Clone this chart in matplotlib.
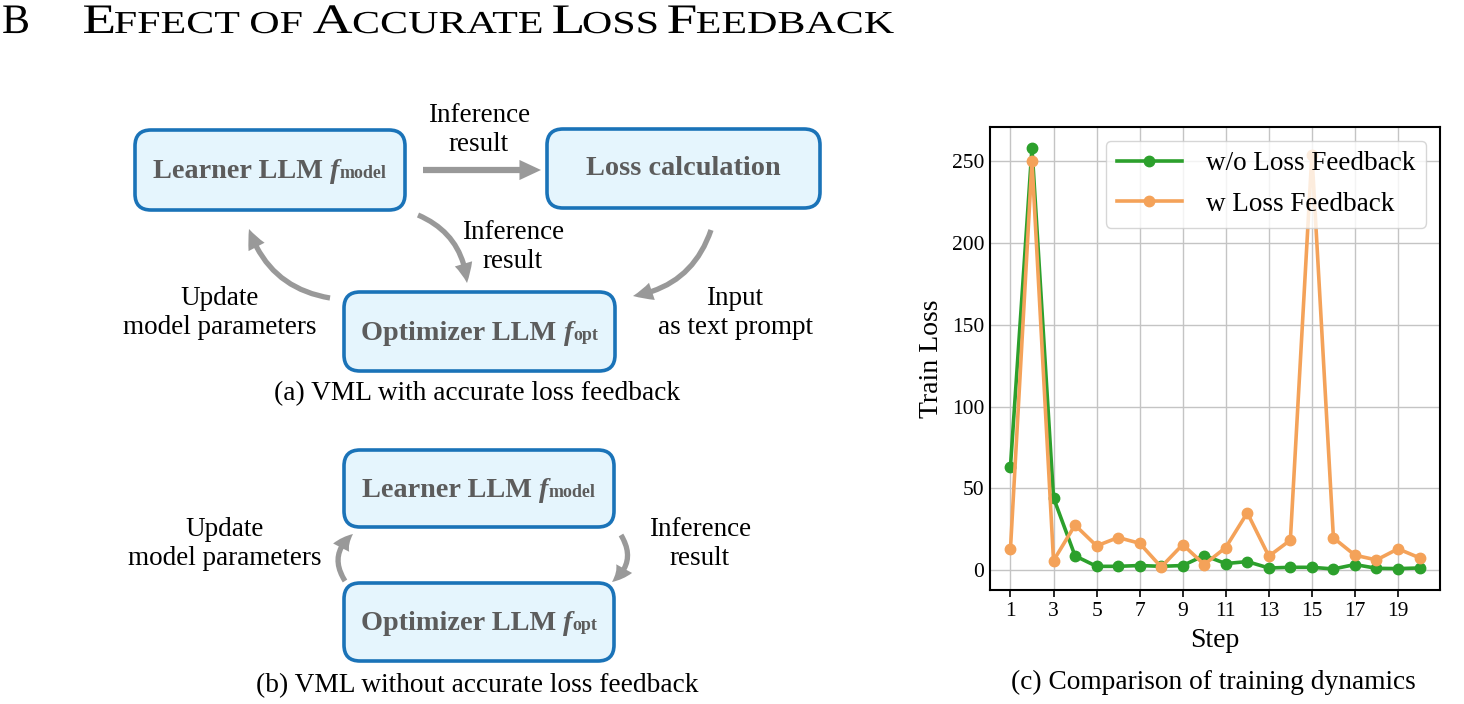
import matplotlib
matplotlib.use("Agg")
import matplotlib.pyplot as plt
from matplotlib.patches import FancyBboxPatch, FancyArrowPatch, PathPatch
from matplotlib.offsetbox import TextArea, HPacker, AnnotationBbox
from matplotlib.textpath import TextPath
from matplotlib.font_manager import FontProperties
from matplotlib.path import Path
from matplotlib.transforms import Affine2D

plt.rcParams['font.family'] = ['Liberation Serif', 'DejaVu Serif']

# training loss data
steps = list(range(1, 21))
loss_without = [63.3, 258, 44.3, 8.8, 2.4, 2.4, 2.9, 2.4, 2.9, 9.0,
                4.1, 5.3, 1.4, 1.8, 1.8, 0.8, 3.5, 1.2, 1.0, 1.4]
loss_with = [12.9, 250, 5.9, 27.6, 14.9, 20.0, 16.5, 2.0, 15.7, 3.5,
             13.9, 35.1, 8.6, 18.4, 254, 19.8, 9.2, 6.3, 13.1, 7.6]
series_labels = ['w/o Loss Feedback', 'w Loss Feedback']
series_colors = ['#2ca02c', '#f4a259']
xtick_steps = list(range(1, 21, 2))
ytick_vals = [0, 50, 100, 150, 200, 250]

title_words = ['Effect', 'of', 'Accurate', 'Loss', 'Feedback']

box_edge = '#1a73b8'
box_fill = '#e5f5fd'
box_text = '#5c5c5c'
arrow_col = '#999999'

W, H = 1464, 704
fig = plt.figure(figsize=(W / 100, H / 100), dpi=100)

# diagram layer in pixel coordinates (y downwards)
ax_d = fig.add_axes([0, 0, 1, 1])
ax_d.set_xlim(0, W)
ax_d.set_ylim(H, 0)
ax_d.axis('off')

fp = FontProperties(family='Liberation Serif')


def small_caps_title(x0, x1, base, big=42, small=32):
    # build the small-caps heading as glyph outlines, then stretch to width
    paths = []
    pen = 0.0
    for i, w in enumerate(title_words):
        pieces = [(w[0], big), (w[1:].upper(), small)] if w[0].isupper() else [(w.upper(), small)]
        for txt, sz in pieces:
            tp = TextPath((0, 0), txt, size=sz, prop=fp)
            ext = tp.get_extents()
            paths.append(tp.transformed(Affine2D().translate(pen - ext.x0, 0)))
            pen += ext.width + 0.03 * sz
        pen += 0.25 * small
    pen -= 0.25 * small
    comp = Path.make_compound_path(*paths)
    sx = (x1 - x0) / pen
    tr = Affine2D().scale(sx, -1).translate(x0, base) + ax_d.transData
    ax_d.add_patch(PathPatch(comp, transform=tr, fc='black', ec='none', lw=0))


tb = TextPath((0, 0), 'B', size=42, prop=fp)
ax_d.add_patch(PathPatch(tb, transform=Affine2D().scale(1, -1).translate(2, 33) + ax_d.transData,
                         fc='black', ec='none', lw=0))
small_caps_title(84, 895, 33)


def llm_box(x0, y0, x1, y1, name=None, sub=None, plain=None):
    p = FancyBboxPatch((x0, y0), x1 - x0, y1 - y0,
                       boxstyle='round,pad=0,rounding_size=16',
                       fc=box_fill, ec=box_edge, lw=2.6, zorder=2)
    ax_d.add_patch(p)
    cx, cy = (x0 + x1) / 2, (y0 + y1) / 2
    tp = dict(fontsize=20.3, fontweight='bold', color=box_text)
    if plain is not None:
        ax_d.text(cx, cy, plain, ha='center', va='center', zorder=3, **tp)
        return
    kids = [TextArea(name + ' ', textprops=tp),
            TextArea('f', textprops=dict(tp, fontstyle='italic')),
            TextArea(sub, textprops=dict(fontsize=13, fontweight='bold', color=box_text))]
    pack = HPacker(children=kids, align='baseline', pad=0, sep=0)
    ab = AnnotationBbox(pack, (cx, cy + 2), xycoords='data', box_alignment=(0.5, 0.5),
                        frameon=False, pad=0, zorder=3)
    ax_d.add_artist(ab)


def arrow(p0, p1, rad=0.0, tw=0.42, hw=1.45, hl=1.55):
    a = FancyArrowPatch(p0, p1, connectionstyle='arc3,rad=%s' % rad,
                        arrowstyle='simple,tail_width=%s,head_width=%s,head_length=%s' % (tw, hw, hl),
                        mutation_scale=10, fc=arrow_col, ec='none', lw=0,
                        shrinkA=0, shrinkB=0, zorder=1)
    ax_d.add_patch(a)


lab = dict(fontsize=19.5, ha='center', va='center', linespacing=1.2, color='black')
cap = dict(fontsize=19.7, ha='center', va='center')

# (a) with accurate loss feedback
llm_box(135, 130, 405, 210, 'Learner LLM', 'model')
llm_box(547, 129, 820, 208, plain='Loss calculation')
llm_box(344, 292, 615, 371, 'Optimizer LLM', 'opt')
arrow((423, 170), (541, 170), tw=0.45)
ax_d.text(479, 130, 'Inference\nresult', **lab)
arrow((418, 215), (467, 283), rad=-0.3, tw=0.38, hw=1.3, hl=1.4)
ax_d.text(513, 247, 'Inference\nresult', **lab)
arrow((330, 298), (249, 229), rad=-0.3, tw=0.38, hw=1.3, hl=1.4)
ax_d.text(220, 313, 'Update\nmodel parameters', **lab)
arrow((711, 230), (633, 296), rad=-0.3, tw=0.38, hw=1.3, hl=1.4)
ax_d.text(735, 313, 'Input\nas text prompt', **lab)
ax_d.text(477, 394, '(a) VML with accurate loss feedback', **cap)

# (b) without accurate loss feedback
llm_box(344, 450, 614, 527, 'Learner LLM', 'model')
llm_box(344, 583, 614, 661, 'Optimizer LLM', 'opt')
arrow((345, 581), (353, 534), rad=-0.45, tw=0.38, hw=1.3, hl=1.3)
arrow((621, 535), (612, 582), rad=-0.45, tw=0.38, hw=1.3, hl=1.3)
ax_d.text(225, 544, 'Update\nmodel parameters', **lab)
ax_d.text(700, 544, 'Inference\nresult', **lab)
ax_d.text(477, 686, '(b) VML without accurate loss feedback', **cap)

# (c) training dynamics
ax = fig.add_axes([990 / W, 1 - 590 / H, 450 / W, 463 / H])
ax.plot(steps, loss_without, '-o', color=series_colors[0], lw=2.6, ms=7.5,
        label=series_labels[0])
ax.plot(steps, loss_with, '-o', color=series_colors[1], lw=2.6, ms=7.5,
        label=series_labels[1])
ax.set_xticks(xtick_steps)
ax.set_yticks(ytick_vals)
ax.tick_params(labelsize=15.5, width=1.2)
ax.tick_params(axis='x', length=5)
ax.tick_params(axis='y', length=0, pad=4)
ax.grid(True, color='#c4c4c4', lw=1)
ax.set_axisbelow(True)
for s in ax.spines.values():
    s.set_linewidth(1.5)
ax.set_xlabel('Step', fontsize=20, labelpad=5)
ax.set_ylabel('Train Loss', fontsize=20, labelpad=6)
ax.legend(loc='upper right', fontsize=19.5, handlelength=2.4, handletextpad=0.9,
          borderaxespad=0.5, labelspacing=0.57)
fig.text(1213 / W, 1 - 682 / H, '(c) Comparison of training dynamics', **cap)

fig.savefig('out.png', dpi=100)
